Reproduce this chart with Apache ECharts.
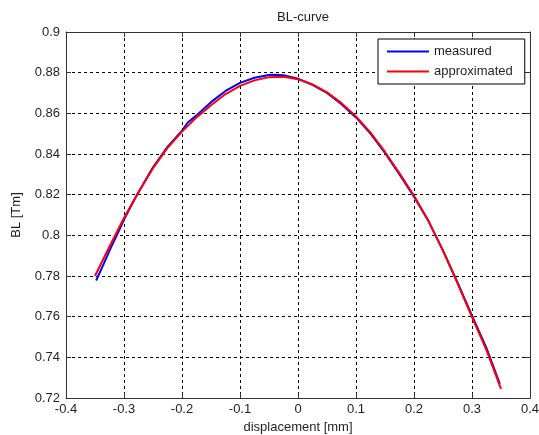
<!DOCTYPE html>
<html>
<head>
<meta charset="utf-8">
<script src="https://cdn.jsdelivr.net/npm/echarts@6/dist/echarts.min.js"></script>
<style>
  html, body { margin: 0; padding: 0; background: #fff; }
  #chart { width: 539px; height: 435px; }
</style>
</head>
<body>
<div id="chart"></div>
<script>
// Measured BL(x) samples
const measuredX = [-0.348, -0.335, -0.325, -0.31, -0.30, -0.285, -0.275, -0.25, -0.225, -0.20,
  -0.19, -0.175, -0.15, -0.125, -0.10, -0.075, -0.05, -0.04, -0.025, 0,
  0.025, 0.05, 0.075, 0.10, 0.125, 0.15, 0.175, 0.20, 0.225, 0.25,
  0.275, 0.30, 0.325, 0.348];
const measuredBL = [0.7778, 0.7860, 0.7925, 0.8015, 0.8078, 0.8160, 0.8212, 0.8335, 0.8435, 0.8515,
  0.8555, 0.8590, 0.8655, 0.8710, 0.8750, 0.8775, 0.8788, 0.8790, 0.8787, 0.8770,
  0.8740, 0.8700, 0.8645, 0.8580, 0.8500, 0.8405, 0.8300, 0.8190, 0.8070, 0.7925,
  0.7768, 0.7605, 0.7445, 0.7270];

// Fitted (approximated) BL(x)
const approxX = [-0.35, -0.325, -0.30, -0.275, -0.25, -0.225, -0.20, -0.175, -0.15, -0.125,
  -0.10, -0.075, -0.05, -0.025, 0, 0.025, 0.05, 0.075, 0.10, 0.125,
  0.15, 0.175, 0.20, 0.225, 0.25, 0.275, 0.30, 0.325, 0.35];
const approxBL = [0.7800, 0.7945, 0.8085, 0.8212, 0.8330, 0.8430, 0.8510, 0.8580, 0.8640, 0.8695,
  0.8735, 0.8762, 0.8778, 0.8780, 0.8768, 0.8742, 0.8703, 0.8650, 0.8585, 0.8505,
  0.8410, 0.8305, 0.8195, 0.8070, 0.7925, 0.7765, 0.7598, 0.7435, 0.7245];

const xTicks = { min: -0.4, max: 0.4, interval: 0.1 };
const yTicks = { min: 0.72, max: 0.9, interval: 0.02 };

const pairs = (xs, ys) => xs.map((x, i) => [x, ys[i]]);

const textColor = '#1f1f2a';
const axisColor = '#333';
const fontFamily = 'Arial, "Liberation Sans", sans-serif';
const fontSize = 13;

const chart = echarts.init(document.getElementById('chart'), null, { renderer: 'canvas' });

const gridLine = { show: true, lineStyle: { color: '#000', width: 1, type: [3, 3] } };
const axisLine = { show: true, onZero: false, lineStyle: { color: axisColor, width: 1 } };
const tick = { show: true, inside: true, length: 5, lineStyle: { color: axisColor } };

chart.setOption({
  animation: false,
  backgroundColor: '#fff',
  textStyle: { fontFamily },
  title: {
    text: 'BL-curve',
    left: 298,
    top: 6,
    textAlign: 'center',
    textStyle: { fontSize, fontWeight: 'normal', color: textColor, fontFamily }
  },
  grid: { left: 66, right: 9, top: 32, bottom: 37, containLabel: false, outerBoundsMode: 'none' },
  legend: {
    orient: 'vertical',
    left: 378,
    top: 39,
    padding: [6, 12, 6, 9],
    itemGap: 7,
    itemWidth: 42,
    itemHeight: 2,
    icon: 'rect',
    backgroundColor: '#fff',
    borderColor: '#000',
    borderWidth: 1,
    borderRadius: 0,
    textStyle: { fontSize, color: textColor, fontFamily },
    data: ['measured', 'approximated']
  },
  xAxis: [
    {
      type: 'value', ...xTicks,
      name: 'displacement [mm]', nameLocation: 'middle', nameGap: 21,
      nameTextStyle: { fontSize, color: textColor, fontFamily },
      axisLine, axisTick: tick, splitLine: gridLine,
      axisLabel: { fontSize, color: textColor, margin: 5, fontFamily }
    },
    {
      type: 'value', ...xTicks, position: 'top',
      axisLine, axisTick: tick, splitLine: { show: false }, axisLabel: { show: false }
    }
  ],
  yAxis: [
    {
      type: 'value', ...yTicks,
      name: 'BL [Tm]', nameLocation: 'middle', nameGap: 43, nameRotate: 90,
      nameTextStyle: { fontSize, color: textColor, fontFamily },
      axisLine, axisTick: tick, splitLine: gridLine,
      axisLabel: { fontSize, color: textColor, margin: 6, fontFamily }
    },
    {
      type: 'value', ...yTicks, position: 'right',
      axisLine, axisTick: tick, splitLine: { show: false }, axisLabel: { show: false }
    }
  ],
  series: [
    {
      name: 'measured', type: 'line', showSymbol: false, symbol: 'none',
      data: pairs(measuredX, measuredBL),
      lineStyle: { color: '#0000ff', width: 2 }, itemStyle: { color: '#0000ff' },
      z: 3
    },
    {
      name: 'approximated', type: 'line', showSymbol: false, symbol: 'none',
      data: pairs(approxX, approxBL),
      lineStyle: { color: '#ff0000', width: 2 }, itemStyle: { color: '#ff0000' },
      z: 4
    }
  ]
});
</script>
</body>
</html>
